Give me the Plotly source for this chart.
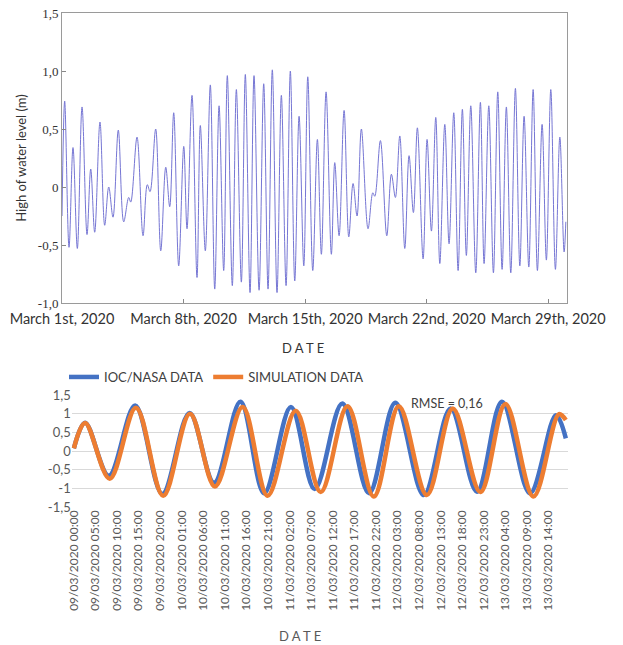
import pandas as pd
import plotly.graph_objects as go

# ---------------- data: top chart (extrema) ----------------
TOP_HOURS = [0, 3.7, 9.7, 15.2, 21.2, 27.7, 34.6, 39.7, 45.2, 52.5, 59.0, 64.6, 70.5, 77.8,
             85.3, 92.2, 95.0, 103.7, 112.0, 117.9, 121.7, 129.5, 136.5, 143.4, 148.9, 154.4,
             161.3, 168.3, 172.8, 179.7, 186.6, 191.2, 198.1, 205.0, 211.1, 217.1, 223.5,
             228.5, 235.4, 241.0, 247.9, 253.4, 259.9, 265.4, 272.4, 278.8, 284.8, 290.7,
             297.2, 303.2, 309.7, 315.6, 321.7, 327.7, 334.2, 339.7, 346.6, 353.0, 358.5,
             365.0, 372.3, 377.0, 383.0, 389.9, 396.4, 402.3, 407.8, 413.8, 423.0, 429.6,
             432.3, 440.1, 448.9, 455.3, 460.8, 466.9, 473.8, 479.7, 485.7, 491.2, 499.1,
             504.6, 510.6, 516.6, 522.2, 529.1, 535.0, 541.5, 547.5, 553.4, 558.9, 565.0,
             571.9, 578.3, 583.4, 589.9, 596.3, 602.3, 608.3, 614.2, 620.3, 626.7, 632.8,
             638.7, 645.2, 651.2, 657.1, 663.6, 669.5, 675.6, 682.0, 688.1, 694.0, 696.4]
TOP_LEVEL = [-0.25, 0.74, -0.52, 0.34, -0.53, 0.69, -0.41, 0.155, -0.39, 0.56, -0.33, 0.0, -0.26, 0.49,
             -0.30, -0.09, -0.13, 0.43, -0.42, 0.02, -0.04, 0.50, -0.55, 0.17, -0.17, 0.64,
             -0.68, 0.35, -0.36, 0.79, -0.78, 0.53, -0.55, 0.88, -0.88, 0.70, -0.72,
             0.96, -0.85, 0.84, -0.82, 0.97, -0.91, 0.96, -0.89, 0.89, -0.88, 1.01,
             -0.91, 0.79, -0.85, 1.00, -0.81, 0.61, -0.68, 0.95, -0.72, 0.41, -0.58,
             0.82, -0.58, 0.21, -0.42, 0.66, -0.43, 0.03, -0.25, 0.50, -0.36, -0.05,
             -0.08, 0.40, -0.42, 0.11, -0.09, 0.44, -0.53, 0.27, -0.22, 0.51, -0.62,
             0.41, -0.38, 0.60, -0.66, 0.54, -0.49, 0.64, -0.72, 0.67, -0.59, 0.70,
             -0.74, 0.73, -0.66, 0.70, -0.74, 0.82, -0.71, 0.69, -0.74, 0.85, -0.68,
             0.61, -0.69, 0.84, -0.72, 0.54, -0.63, 0.84, -0.71, 0.43, -0.56, -0.30]
TOP_START = "2020-03-01"
TOP_TICK_DATES = ["2020-03-01", "2020-03-08", "2020-03-15", "2020-03-22", "2020-03-29"]
TOP_TICK_TEXT = ["March 1st, 2020", "March 8th, 2020", "March 15th, 2020",
                 "March 22nd, 2020", "March 29th, 2020"]
TOP_Y_TICKS = [-1.0, -0.5, 0, 0.5, 1.0, 1.5]
TOP_Y_TEXT = ["-1,0", "-0,5", "0", "0,5", "1,0", "1,5"]

# ---------------- data: bottom chart (hours since 09/03/2020 00:00) ----------------
IOC_HOURS = [0, 2.6, 8.1, 14.2, 20.5, 26.8, 32.5, 38.6, 44.1, 50.3, 55.8, 62.2, 68.4,
             74.5, 81.1, 87.3, 93.4, 99.2, 105.7, 111.7, 114]
IOC_VALUES = [0.07, 0.76, -0.66, 1.22, -1.15, 1.02, -0.85, 1.32, -1.13, 1.18, -1.02, 1.27, -1.13,
              1.29, -1.18, 1.14, -1.09, 1.32, -1.13, 0.96, 0.34]
SIM_HOURS = [0, 2.6, 8.3, 14.4, 20.7, 26.9, 32.7, 39.1, 44.9, 51.4, 57.2, 63.4, 69.5,
             75.3, 81.8, 87.8, 94.2, 100.0, 106.5, 112.4, 114]
SIM_VALUES = [0.07, 0.75, -0.74, 1.16, -1.2, 1.0, -0.95, 1.18, -1.2, 1.08, -1.1, 1.2, -1.22,
              1.2, -1.18, 1.14, -1.1, 1.26, -1.22, 0.99, 0.83]
BOT_TICK_HOURS = list(range(0, 111, 5))
BOT_TICK_TEXT = ["09/03/2020 00:00", "09/03/2020 05:00", "09/03/2020 10:00", "09/03/2020 15:00",
                 "09/03/2020 20:00", "10/03/2020 01:00", "10/03/2020 06:00", "10/03/2020 11:00",
                 "10/03/2020 16:00", "10/03/2020 21:00", "11/03/2020 02:00", "11/03/2020 07:00",
                 "11/03/2020 12:00", "11/03/2020 17:00", "11/03/2020 22:00", "12/03/2020 03:00",
                 "12/03/2020 08:00", "12/03/2020 13:00", "12/03/2020 18:00", "12/03/2020 23:00",
                 "13/03/2020 04:00", "13/03/2020 09:00", "13/03/2020 14:00"]
BOT_Y_TICKS = [-1.5, -1, -0.5, 0, 0.5, 1, 1.5]
BOT_Y_TEXT = ["-1,5", "-1", "-0,5", "0", "0,5", "1", "1,5"]

W, H = 623, 645
def px(x):
    return x / W
def py(y):
    return 1 - y / H

top_x = pd.Timestamp(TOP_START) + pd.to_timedelta(TOP_HOURS, unit="h")

fig = go.Figure()
fig.add_trace(go.Scatter(x=top_x, y=TOP_LEVEL, mode="lines", xaxis="x", yaxis="y",
                         line=dict(color="rgb(118,118,212)", width=1, shape="spline", smoothing=1.0),
                         showlegend=False, hoverinfo="skip"))
fig.add_trace(go.Scatter(x=IOC_HOURS, y=IOC_VALUES, mode="lines", xaxis="x2", yaxis="y2",
                         name="IOC/NASA DATA",
                         line=dict(color="#4472C4", width=4.5, shape="spline", smoothing=1.0)))
fig.add_trace(go.Scatter(x=SIM_HOURS, y=SIM_VALUES, mode="lines", xaxis="x2", yaxis="y2",
                         name="SIMULATION DATA",
                         line=dict(color="#ED7D31", width=4.5, shape="spline", smoothing=1.0)))

sans = "Lato"
fig.update_layout(
    width=W, height=H, margin=dict(l=0, r=0, t=0, b=0),
    paper_bgcolor="white", plot_bgcolor="white",
    font=dict(family=sans, size=12, color="#404040"),
    xaxis=dict(domain=[px(62), px(567)], type="date", automargin=False,
               range=["2020-03-01", "2020-03-30 02:00"],
               tickvals=TOP_TICK_DATES, ticktext=TOP_TICK_TEXT, tickangle=0,
               ticks="inside", ticklen=4, tickcolor="#888",
               showline=True, linecolor="#9a9a9a", linewidth=1, mirror=True,
               showgrid=False, zeroline=False, anchor="y",
               tickfont=dict(family=sans, size=14.5, color="#333"), ticklabelstandoff=3),
    yaxis=dict(domain=[py(303), py(13)], range=[-1.0, 1.5], automargin=False,
               tickvals=TOP_Y_TICKS, ticktext=TOP_Y_TEXT,
               ticks="inside", ticklen=4, tickcolor="#888",
               showline=True, linecolor="#9a9a9a", linewidth=1, mirror=True,
               showgrid=False, zeroline=False, anchor="x", ticklabeloverflow="allow",
               tickfont=dict(family="Liberation Serif", size=13, color="#333"),
               title=dict(text="High of water level (m)", standoff=8,
                          font=dict(family=sans, size=13, color="#333"))),
    xaxis2=dict(domain=[px(71.7), px(568)], range=[-0.5, 114.5], automargin=False,
                tickvals=BOT_TICK_HOURS, ticktext=BOT_TICK_TEXT, tickangle=-90,
                showline=False, showgrid=False, zeroline=False, ticks="", anchor="y2",
                tickfont=dict(family=sans, size=12, color="#595959")),
    yaxis2=dict(domain=[py(507), py(395)], range=[-1.5, 1.5], automargin=False,
                tickvals=BOT_Y_TICKS, ticktext=BOT_Y_TEXT,
                showgrid=True, gridcolor="#d9d9d9", gridwidth=1, zeroline=False,
                showline=False, ticks="", anchor="x2",
                tickfont=dict(family=sans, size=13, color="#595959")),
    legend=dict(orientation="h", x=px(64), y=py(362), xanchor="left", yanchor="top",
                font=dict(family=sans, size=13, color="#404040"),
                bgcolor="rgba(0,0,0,0)", itemwidth=30, tracegroupgap=0),
    annotations=[
        dict(text="D A T E", x=px(303), y=py(348), xref="paper", yref="paper",
             xanchor="center", yanchor="middle",
             showarrow=False, font=dict(family=sans, size=13, color="#333")),
        dict(text="D A T E", x=px(300), y=py(636), xref="paper", yref="paper",
             xanchor="center", yanchor="middle",
             showarrow=False, font=dict(family=sans, size=13, color="#595959")),
        dict(text="RMSE = 0,16", x=86.5, y=1.27, xref="x2", yref="y2",
             xanchor="center", yanchor="middle",
             showarrow=False, font=dict(family=sans, size=12.5, color="#404040")),
    ],
)

fig.write_html("out.html", config={"displayModeBar": False},
               post_script="document.body.style.margin='0';")
